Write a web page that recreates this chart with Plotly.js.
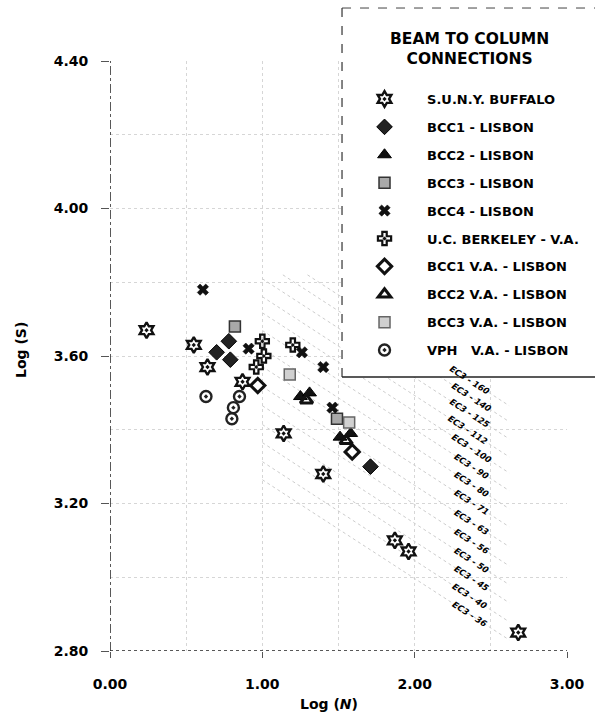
<!DOCTYPE html>
<html>
<head>
<meta charset="utf-8">
<script src="https://cdn.plot.ly/plotly-3.0.1.min.js"></script>
<style>html,body{margin:0;padding:0;background:#fff;}#chart{width:595px;height:715px;}</style>
</head>
<body>
<div id="chart"></div>
<script>
// ---- data ----
const sunyX = [0.24, 0.55, 0.64, 0.87, 1.14, 1.40, 1.87, 1.96, 2.68];
const sunyY = [3.67, 3.63, 3.57, 3.53, 3.39, 3.28, 3.10, 3.07, 2.85];
const bcc1X = [0.78, 0.70, 0.79, 1.71];
const bcc1Y = [3.64, 3.61, 3.59, 3.30];
const bcc2X = [1.25, 1.31, 1.51, 1.58];
const bcc2Y = [3.49, 3.50, 3.38, 3.39];
const bcc3X = [0.82, 1.49];
const bcc3Y = [3.68, 3.43];
const bcc4X = [0.61, 0.91, 1.26, 1.40, 1.46];
const bcc4Y = [3.78, 3.62, 3.61, 3.57, 3.46];
const berkX = [1.00, 1.01, 0.96, 1.20];
const berkY = [3.64, 3.60, 3.57, 3.63];
const bcc1vaX = [0.97, 1.59];
const bcc1vaY = [3.52, 3.34];
const bcc2vaX = [1.29, 1.55];
const bcc2vaY = [3.48, 3.37];
const bcc3vaX = [1.18, 1.57];
const bcc3vaY = [3.55, 3.42];
const vphX = [0.63, 0.85, 0.81, 0.80];
const vphY = [3.49, 3.49, 3.46, 3.43];

const seriesNames = ["S.U.N.Y. BUFFALO", "BCC1 - LISBON", "BCC2 - LISBON", "BCC3 - LISBON",
  "BCC4 - LISBON", "U.C. BERKELEY - V.A.", "BCC1 V.A. - LISBON", "BCC2 V.A. - LISBON",
  "BCC3 V.A. - LISBON", "VPH   V.A. - LISBON"];
const legendTitle = "BEAM TO COLUMN<br>CONNECTIONS";

// EC3 detail categories: label text and where each label sits on its line
const ec3Labels = ["EC3 - 160", "EC3 - 140", "EC3 - 125", "EC3 - 112", "EC3 - 100", "EC3 - 90",
  "EC3 - 80", "EC3 - 71", "EC3 - 63", "EC3 - 56", "EC3 - 50", "EC3 - 45", "EC3 - 40", "EC3 - 36"];
const ec3LabelX = [2.36, 2.37, 2.36, 2.35, 2.37, 2.37, 2.37, 2.37, 2.37, 2.37, 2.37, 2.37, 2.36, 2.36];
const ec3LabelY = [3.535, 3.489, 3.445, 3.399, 3.350, 3.302, 3.253, 3.204, 3.150, 3.098, 3.047, 2.998, 2.949, 2.900];
const ec3Slope = -0.268;   // slope of the dotted EC3 lines
const ec3StartX = 1.0, ec3TopY = 3.82, ec3EndX = 2.62;

const xTickVals = [0, 1, 2, 3];
const yTickVals = [2.8, 3.2, 3.6, 4.0, 4.4];

// ---- build ----
const FONT = "DejaVu Sans, Liberation Sans, Arial, sans-serif";
const traces = [];

ec3Labels.forEach((lab, i) => {
  const x1 = ec3EndX;
  let x0 = ec3StartX;
  const yAt0 = ec3LabelY[i] + ec3Slope * (x0 - ec3LabelX[i]);
  if (yAt0 > ec3TopY) x0 = ec3LabelX[i] + (ec3TopY - ec3LabelY[i]) / ec3Slope;
  traces.push({
    x: [x0, x1],
    y: [ec3LabelY[i] + ec3Slope * (x0 - ec3LabelX[i]), ec3LabelY[i] + ec3Slope * (x1 - ec3LabelX[i])],
    mode: "lines", showlegend: false, hoverinfo: "skip",
    line: {color: "#cdcdcd", width: 1, dash: "dot"}
  });
});

const styles = [
  {symbol: "hexagram-open-dot", color: "#111", size: 12, line: {color: "#111", width: 2.4}},
  {symbol: "diamond", color: "#222", size: 12, line: {color: "#000", width: 1}},
  {symbol: "triangle-up", color: "#111", size: 12, line: {color: "#000", width: 1}},
  {symbol: "square", color: "#a9a9a9", size: 11, line: {color: "#333", width: 1.5}},
  {symbol: "x", color: "#111", size: 10, line: {color: "#000", width: 0.5}},
  {symbol: "cross-open-dot", color: "#111", size: 11, line: {color: "#111", width: 2.2}},
  {symbol: "diamond-open", color: "#111", size: 11, line: {color: "#111", width: 3}},
  {symbol: "triangle-up-open", color: "#111", size: 11, line: {color: "#111", width: 3}},
  {symbol: "square", color: "#d0d0d0", size: 11, line: {color: "#666", width: 1.5}},
  {symbol: "circle-open-dot", color: "#222", size: 11, line: {color: "#222", width: 2.4}}
];
const xs = [sunyX, bcc1X, bcc2X, bcc3X, bcc4X, berkX, bcc1vaX, bcc2vaX, bcc3vaX, vphX];
const ys = [sunyY, bcc1Y, bcc2Y, bcc3Y, bcc4Y, berkY, bcc1vaY, bcc2vaY, bcc3vaY, vphY];
seriesNames.forEach((n, i) => {
  traces.push({
    x: xs[i], y: ys[i], name: n, mode: "markers", type: "scatter",
    legendgroup: "g" + i, marker: styles[i]
  });
});

const annotations = ec3Labels.map((lab, i) => ({
  x: ec3LabelX[i], y: ec3LabelY[i], xref: "x", yref: "y", text: lab, showarrow: false,
  textangle: 33, font: {family: FONT, size: 8.5, color: "#000", weight: "bold", style: "italic"}
}));
annotations.push({
  xref: "paper", yref: "paper", x: 0.48, y: -0.09, xanchor: "center", yanchor: "middle",
  text: "Log (<i>N</i>)", showarrow: false, font: {family: FONT, size: 14, color: "#000", weight: "bold"}
});
annotations.push({
  xref: "paper", yref: "paper", x: -0.195, y: 0.51, xanchor: "center", yanchor: "middle",
  text: "Log (S)", textangle: -90, showarrow: false, font: {family: FONT, size: 14, color: "#000", weight: "bold"}
});
// legend heading, centred over the legend box
annotations.push({
  xref: "paper", yref: "paper", x: 0.787, y: 1.0205, xanchor: "center", yanchor: "middle",
  text: legendTitle, align: "center", showarrow: false,
  font: {family: FONT, size: 15.5, color: "#000", weight: "bold"}
});

// legend frame (paper coordinates)
const boxL = 0.5077, boxR = 1.08, boxB = 0.4644, boxT = 1.0898;

const layout = {
  width: 595, height: 715,
  margin: {l: 110, r: 28, t: 61, b: 64, autoexpand: false},
  paper_bgcolor: "#fff", plot_bgcolor: "#fff",
  font: {family: FONT, color: "#000"},
  xaxis: {
    range: [0, 3], tickvals: xTickVals, tickformat: ".2f", showline: false, zeroline: false,
    ticks: "outside", ticklen: 6, tickcolor: "#555", ticklabelstandoff: 14,
    tickfont: {family: FONT, size: 14, weight: "bold"},
    showgrid: true, gridcolor: "#d6d6d6", griddash: "dot", gridwidth: 1,
    minor: {dtick: 0.5, tick0: 0, showgrid: true, gridcolor: "#d6d6d6", griddash: "dot", gridwidth: 1}
  },
  yaxis: {
    range: [2.8, 4.4], tickvals: yTickVals, tickformat: ".2f", showline: false, zeroline: false,
    ticks: "outside", ticklen: 8, tickcolor: "#555", ticklabelstandoff: 10,
    tickfont: {family: FONT, size: 14, weight: "bold"},
    showgrid: true, gridcolor: "#d6d6d6", griddash: "dot", gridwidth: 1,
    minor: {dtick: 0.2, tick0: 2.8, showgrid: true, gridcolor: "#d6d6d6", griddash: "dot", gridwidth: 1}
  },
  shapes: [
    {type: "line", xref: "x", yref: "y", x0: 0, x1: 3, y0: 2.8, y1: 2.8, line: {color: "#222", width: 1.5, dash: "dot"}},
    {type: "line", xref: "x", yref: "y", x0: 0, x1: 0, y0: 2.8, y1: 4.4, line: {color: "#222", width: 1.5, dash: "dashdot"}},
    {type: "rect", xref: "paper", yref: "paper", x0: boxL, x1: boxR, y0: boxB, y1: boxT, layer: "above",
      fillcolor: "#fff", line: {width: 0}},
    {type: "line", xref: "paper", yref: "paper", x0: boxL, x1: boxR, y0: boxT, y1: boxT, layer: "above",
      line: {color: "#444", width: 1, dash: "dash"}},
    {type: "line", xref: "paper", yref: "paper", x0: boxL, x1: boxL, y0: boxB, y1: boxT, layer: "above",
      line: {color: "#333", width: 1.2, dash: "dash"}},
    {type: "line", xref: "paper", yref: "paper", x0: boxL, x1: boxR, y0: boxB, y1: boxB, layer: "above",
      line: {color: "#222", width: 1.3}}
  ],
  legend: {
    x: boxL, y: 0.9610, xanchor: "left", yanchor: "top",
    bgcolor: "rgba(0,0,0,0)", borderwidth: 0,
    itemwidth: 75, tracegroupgap: 8,
    font: {family: FONT, size: 13, weight: "bold", color: "#000"}
  },
  annotations: annotations,
  showlegend: true
};

Plotly.newPlot("chart", traces, layout, {staticPlot: true, displayModeBar: false});
</script>
</body>
</html>
